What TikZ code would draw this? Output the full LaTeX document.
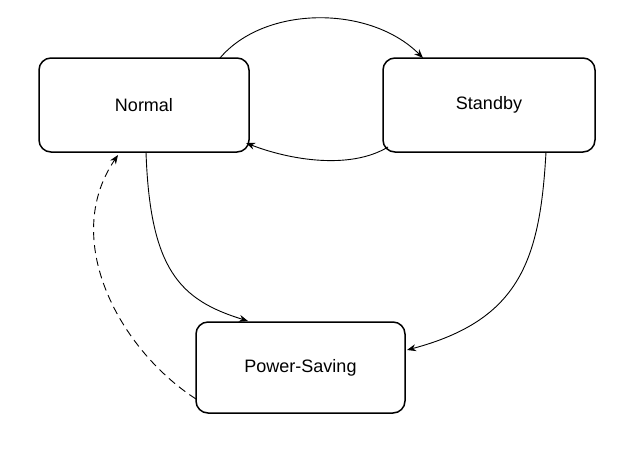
\documentclass[tikz,border=0pt]{standalone}
\usepackage{fontspec}
\setmainfont{Liberation Sans}
\usetikzlibrary{arrows.meta}
\begin{document}
\begin{tikzpicture}[x=1pt,y=-1pt,
  state/.style={draw,line width=1.5pt,rounded corners=12pt,font=\fontsize{18}{20}\selectfont},
  conn/.style={line width=0.9pt,-{Stealth[length=9pt,width=7pt]}}]
\useasboundingbox (0,0) rectangle (634,459);
\node[state,minimum width=210pt,minimum height=94pt] (N) at (144,105) {Normal};
\node[state,minimum width=212pt,minimum height=94pt] (S) at (489,105) {Standby};
\node[state,minimum width=209pt,minimum height=91pt] (P) at (300.5,367.5) {Power-Saving};
\coordinate (a1) at (220,58);
\coordinate (a2) at (423,58);
\draw[conn] (a1) .. controls (265,5) and (370,5) .. (a2);
\coordinate (b1) at (388,147);
\coordinate (b2) at (246,143);
\draw[conn] (b1) .. controls (350,170) and (290,160) .. (b2);
\coordinate (c1) at (146,152);
\coordinate (c2) at (248,321);
\draw[conn] (c1) .. controls (150,270) and (180,300) .. (c2);
\coordinate (d1) at (546,152);
\coordinate (d2) at (407,350);
\draw[conn] (d1) .. controls (540,260) and (520,320) .. (d2);
\coordinate (e1) at (196,399);
\coordinate (e2) at (118,155);
\draw[conn,dashed,dash pattern=on 8pt off 5pt] (e1) .. controls (120,350) and (60,240) .. (e2);
\end{tikzpicture}
\end{document}
